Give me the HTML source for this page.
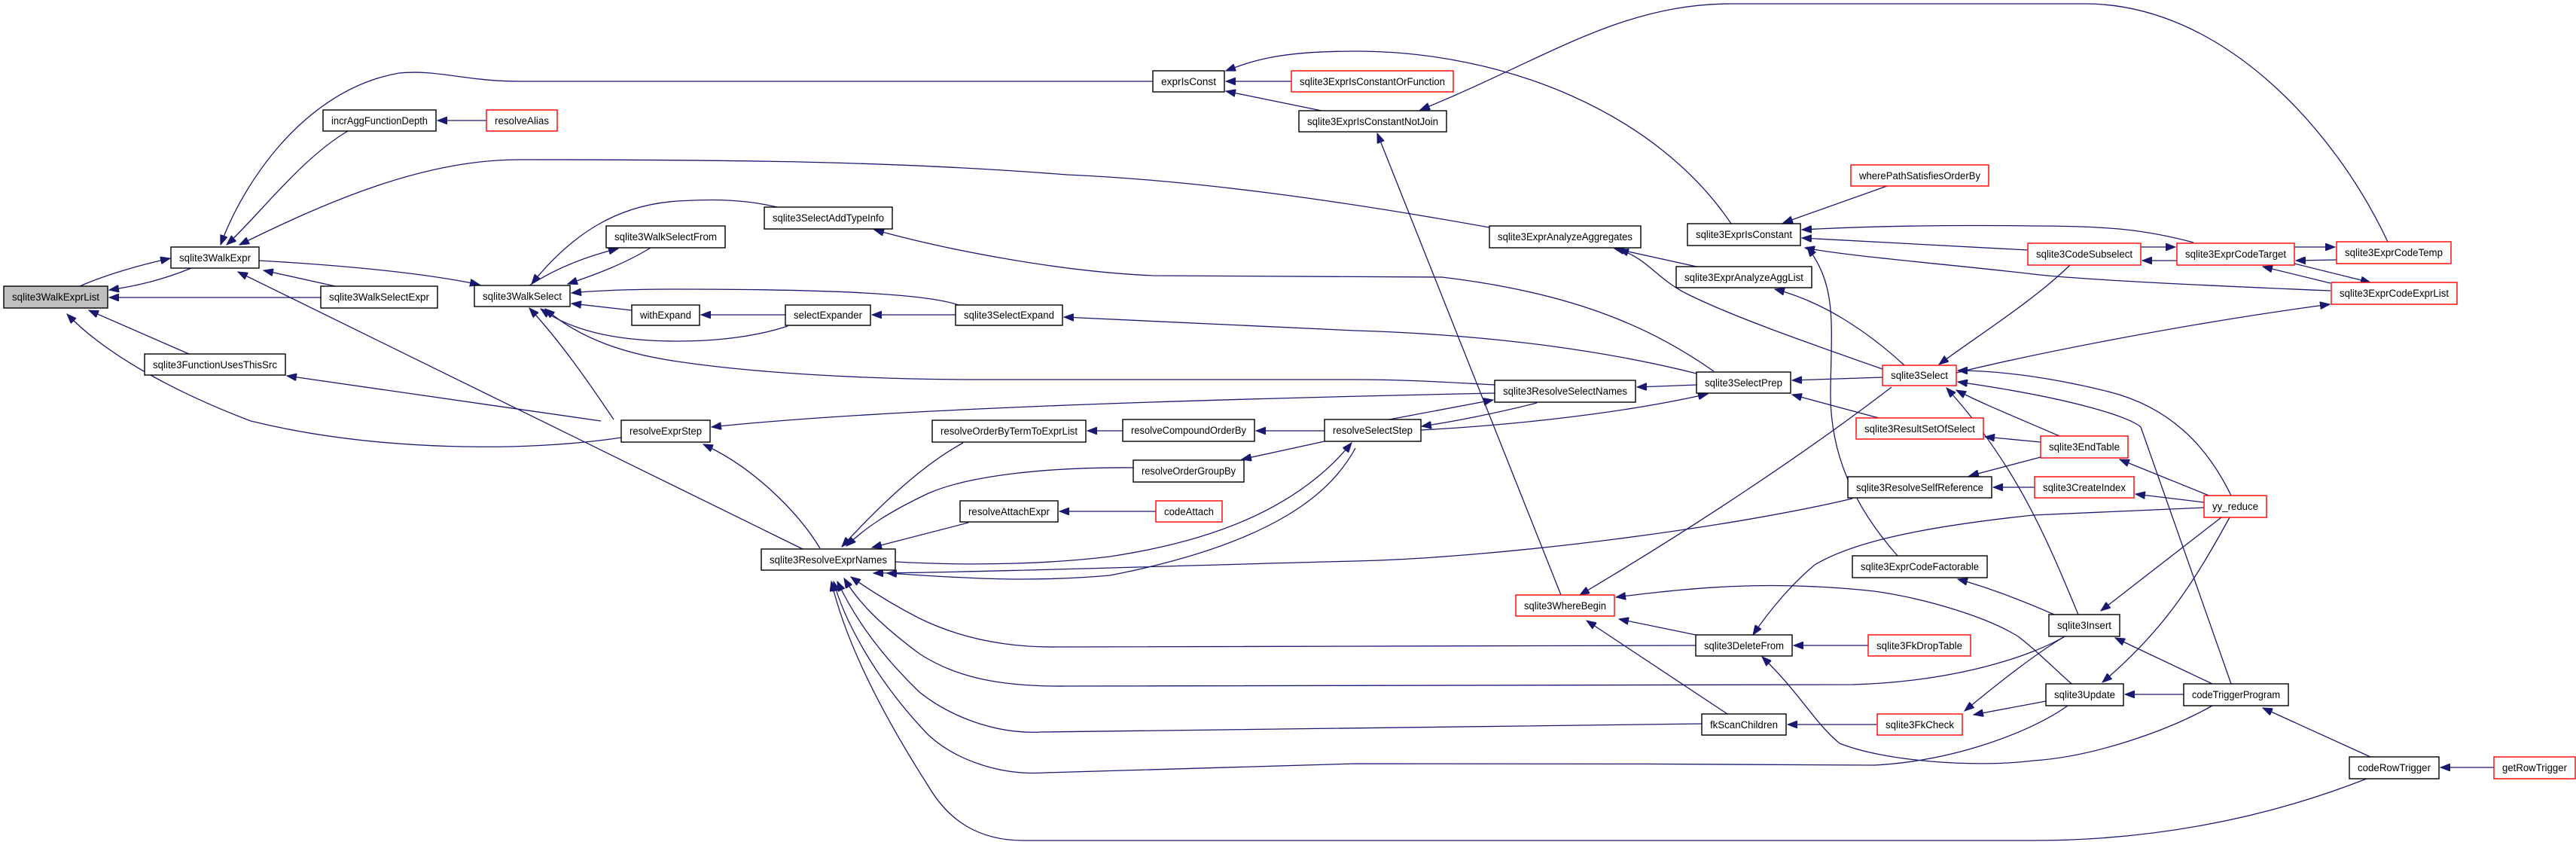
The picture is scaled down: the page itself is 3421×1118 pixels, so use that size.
<!DOCTYPE html>
<html><head><meta charset="utf-8"><style>
html,body{margin:0;padding:0;background:#fff;}
svg{display:block;}
.n{fill:#fff;stroke:#000;stroke-width:1.4;}
.r{fill:#fff;stroke:#ff0000;stroke-width:1.4;}
.g{fill:#bfbfbf;stroke:#000;stroke-width:1.4;}
text{font-family:"Liberation Sans",Arial,sans-serif;font-size:13.5px;fill:#000;text-anchor:middle;}
path{fill:none;stroke:#191970;stroke-width:1.3;marker-end:url(#a);}
</style></head><body>
<svg width="3421" height="1118" viewBox="0 0 3421 1118" xmlns="http://www.w3.org/2000/svg">
<defs><marker id="a" markerUnits="userSpaceOnUse" markerWidth="14" markerHeight="10" refX="13" refY="5" orient="auto"><polygon points="0,0 13,5 0,10" fill="#191970" stroke="#191970"/></marker></defs>
<g>
<path d="M 254 356 C 215 372 180 380 145 385"/>
<path d="M 106 380 C 140 365 185 352 226 343"/>
<path d="M 426 395 L 145 395"/>
<path d="M 251 470 L 118 412"/>
<path d="M 825 581 C 700 600 500 600 333 559 C 230 520 140 470 89 417"/>
<path d="M 462 174 C 400 210 340 290 301 325"/>
<path d="M 1531 108 L 689 108 C 620 108 580 92 530 97 C 400 120 320 250 293 325"/>
<path d="M 1978 302 C 1800 270 1600 240 1417 232 C 1200 215 1000 212 689 212 C 560 212 430 270 318 325"/>
<path d="M 445 380 L 350 359"/>
<path d="M 344 346 C 450 352 560 362 637 378"/>
<path d="M 1066 729 L 316 361"/>
<path d="M 703 379 C 740 355 780 340 821 330"/>
<path d="M 864 329 C 830 350 790 365 754 377"/>
<path d="M 1032 275 C 990 265 950 264 900 267 C 820 272 760 310 706 377"/>
<path d="M 1273 405 C 1230 390 1100 384 900 384 C 830 384 790 386 759 389"/>
<path d="M 839 412 L 759 403"/>
<path d="M 1046 433 C 1010 445 960 453 900 453 C 820 453 760 440 718 410"/>
<path d="M 1985 511 C 1900 506 1850 504 1800 504 L 1302 504 C 1150 504 1000 495 900 480 C 830 470 770 450 724 410"/>
<path d="M 815 557 C 790 520 750 460 703 409"/>
<path d="M 798 559 L 381 499"/>
<path d="M 1043 418 L 931 418"/>
<path d="M 1269 418 L 1158 418"/>
<path d="M 2253 496 C 2150 470 2000 445 1800 439 C 1600 430 1480 423 1413 421"/>
<path d="M 2276 493 C 2200 440 2100 390 1915 368 L 1531 366 C 1400 360 1250 330 1161 305"/>
<path d="M 1985 522 C 1700 528 1200 540 945 567"/>
<path d="M 1845 557 L 1983 531"/>
<path d="M 2041 535 C 1990 548 1930 560 1888 566"/>
<path d="M 1887 571 C 2000 565 2150 550 2268 523"/>
<path d="M 2253 511 L 2174 514"/>
<path d="M 2500 501 L 2380 505"/>
<path d="M 2495 555 L 2380 524"/>
<path d="M 2253 354 L 2144 330"/>
<path d="M 2500 490 C 2400 455 2300 420 2240 390 C 2200 370 2190 345 2150 331"/>
<path d="M 2529 485 C 2480 440 2420 400 2357 384"/>
<path d="M 2506 247 L 2368 296"/>
<path d="M 2299 297 C 2200 150 2000 68 1800 68 C 1700 68 1665 80 1628 94"/>
<path d="M 1715 108 L 1628 108"/>
<path d="M 1755 147 L 1628 121"/>
<path d="M 3171 321 C 3100 170 2950 5 2769 5 L 2299 5 C 2150 5 2050 80 1886 146"/>
<path d="M 2073 790 L 1829 177"/>
<path d="M 2913 322 C 2850 305 2800 300 2700 300 C 2550 298 2450 302 2393 305"/>
<path d="M 2693 332 L 2393 316"/>
<path d="M 3095 386 C 2900 378 2750 370 2700 364 C 2600 352 2450 340 2397 329"/>
<path d="M 2520 738 C 2460 670 2430 600 2431 520 C 2432 430 2440 380 2400 328"/>
<path d="M 2512 514 C 2400 600 2250 700 2098 790"/>
<path d="M 2749 352 C 2700 400 2620 450 2575 484"/>
<path d="M 2598 495 C 2700 470 2900 430 3094 404"/>
<path d="M 2963 658 C 2930 590 2880 540 2800 520 C 2720 500 2650 492 2600 492"/>
<path d="M 2963 908 L 2843 567 C 2830 555 2760 530 2600 507"/>
<path d="M 2735 579 C 2680 555 2630 535 2598 518"/>
<path d="M 2760 816 C 2720 720 2680 620 2585 515"/>
<path d="M 2710 587 L 2636 580"/>
<path d="M 2710 607 L 2615 632"/>
<path d="M 2702 647 L 2647 647"/>
<path d="M 2936 659 L 2815 610"/>
<path d="M 2927 667 L 2836 656"/>
<path d="M 2927 674 L 2700 684 C 2550 700 2460 720 2410 750 C 2380 775 2350 810 2328 843"/>
<path d="M 2728 816 C 2680 795 2640 780 2600 769"/>
<path d="M 2751 908 C 2720 880 2700 860 2680 845 C 2640 820 2560 795 2489 785 C 2350 770 2250 780 2146 793"/>
<path d="M 2252 843 L 2150 822"/>
<path d="M 2294 948 L 2107 824"/>
<path d="M 2481 857 L 2382 857"/>
<path d="M 2493 962 L 2374 962"/>
<path d="M 2742 845 C 2700 870 2650 910 2609 944"/>
<path d="M 2717 931 L 2621 949"/>
<path d="M 2938 937 C 2880 970 2780 1005 2700 1010 C 2620 1020 2500 1010 2443 987 C 2410 960 2390 920 2340 872"/>
<path d="M 2900 922 L 2822 922"/>
<path d="M 2938 908 L 2809 847"/>
<path d="M 2950 687 L 2790 811"/>
<path d="M 2961 687 C 2910 780 2870 840 2792 906"/>
<path d="M 3148 1005 L 3005 940"/>
<path d="M 3312 1019 L 3241 1019"/>
<path d="M 3143 1034 C 3000 1090 2850 1116 2700 1116 L 1359 1116 C 1300 1116 1260 1090 1233 1044 C 1160 930 1120 840 1104 772"/>
<path d="M 2746 937 C 2700 970 2600 1010 2489 1016 C 2300 1014 1900 1014 1800 1014 L 1388 1026 C 1330 1030 1270 1010 1233 976 C 1160 900 1120 820 1107 772"/>
<path d="M 2260 961 L 1382 972 C 1320 975 1260 950 1221 919 C 1160 860 1130 810 1112 772"/>
<path d="M 2742 845 C 2700 870 2600 905 2460 909 L 1417 911 C 1330 912 1270 900 1221 868 C 1170 830 1140 800 1121 768"/>
<path d="M 2252 857 L 1405 859 C 1330 860 1270 845 1221 821 C 1180 800 1150 780 1130 766"/>
<path d="M 2460 662 C 2300 700 2000 740 1800 745 C 1600 750 1300 760 1160 761"/>
<path d="M 1189 746 C 1300 752 1400 748 1474 739 C 1600 720 1720 680 1795 588"/>
<path d="M 1800 595 C 1770 650 1700 720 1474 764 C 1350 775 1250 765 1178 761"/>
<path d="M 1279 588 C 1220 620 1160 680 1118 726"/>
<path d="M 1505 621 C 1400 620 1290 630 1233 655 C 1180 680 1150 700 1124 725"/>
<path d="M 1286 694 L 1158 727"/>
<path d="M 1089 728 C 1060 680 1000 620 934 590"/>
<path d="M 1491 572 L 1444 572"/>
<path d="M 1759 572 L 1668 572"/>
<path d="M 1759 586 L 1649 610"/>
<path d="M 1535 679 L 1407 679"/>
<path d="M 2843 328 L 2889 328"/>
<path d="M 2891 346 L 2845 346"/>
<path d="M 3047 328 L 3101 328"/>
<path d="M 3103 345 L 3049 346"/>
<path d="M 3047 350 L 3148 375"/>
<path d="M 3095 376 L 3005 354"/>
<path d="M 646 160 L 581 160"/>
</g>
<g>
<rect class="g" x="5" y="380" width="138" height="29"/><text x="74" y="399" textLength="116" lengthAdjust="spacingAndGlyphs">sqlite3WalkExprList</text>
<rect class="n" x="227" y="328" width="117" height="28"/><text x="285.5" y="347" textLength="95" lengthAdjust="spacingAndGlyphs">sqlite3WalkExpr</text>
<rect class="n" x="429" y="146" width="150" height="28"/><text x="504" y="165" textLength="128" lengthAdjust="spacingAndGlyphs">incrAggFunctionDepth</text>
<rect class="r" x="646" y="146" width="94" height="28"/><text x="693" y="165" textLength="72" lengthAdjust="spacingAndGlyphs">resolveAlias</text>
<rect class="n" x="426" y="380" width="155" height="29"/><text x="503.5" y="399" textLength="133" lengthAdjust="spacingAndGlyphs">sqlite3WalkSelectExpr</text>
<rect class="n" x="630" y="379" width="127" height="28"/><text x="693.5" y="398" textLength="105" lengthAdjust="spacingAndGlyphs">sqlite3WalkSelect</text>
<rect class="n" x="805" y="300" width="158" height="29"/><text x="884" y="319" textLength="136" lengthAdjust="spacingAndGlyphs">sqlite3WalkSelectFrom</text>
<rect class="n" x="839" y="405" width="90" height="27"/><text x="884" y="423" textLength="68" lengthAdjust="spacingAndGlyphs">withExpand</text>
<rect class="n" x="192" y="470" width="187" height="28"/><text x="285.5" y="489" textLength="165" lengthAdjust="spacingAndGlyphs">sqlite3FunctionUsesThisSrc</text>
<rect class="n" x="825" y="558" width="118" height="29"/><text x="884" y="577" textLength="96" lengthAdjust="spacingAndGlyphs">resolveExprStep</text>
<rect class="n" x="1531" y="94" width="95" height="28"/><text x="1578.5" y="113" textLength="73" lengthAdjust="spacingAndGlyphs">exprIsConst</text>
<rect class="r" x="1715" y="94" width="215" height="28"/><text x="1822.5" y="113" textLength="193" lengthAdjust="spacingAndGlyphs">sqlite3ExprIsConstantOrFunction</text>
<rect class="n" x="1725" y="147" width="196" height="28"/><text x="1823" y="166" textLength="174" lengthAdjust="spacingAndGlyphs">sqlite3ExprIsConstantNotJoin</text>
<rect class="n" x="1015" y="275" width="170" height="29"/><text x="1100" y="294" textLength="148" lengthAdjust="spacingAndGlyphs">sqlite3SelectAddTypeInfo</text>
<rect class="n" x="1043" y="405" width="113" height="27"/><text x="1099.5" y="423" textLength="91" lengthAdjust="spacingAndGlyphs">selectExpander</text>
<rect class="n" x="1269" y="405" width="142" height="27"/><text x="1340" y="423" textLength="120" lengthAdjust="spacingAndGlyphs">sqlite3SelectExpand</text>
<rect class="n" x="1238" y="558" width="204" height="29"/><text x="1340" y="577" textLength="182" lengthAdjust="spacingAndGlyphs">resolveOrderByTermToExprList</text>
<rect class="n" x="1491" y="557" width="175" height="29"/><text x="1578.5" y="576" textLength="153" lengthAdjust="spacingAndGlyphs">resolveCompoundOrderBy</text>
<rect class="n" x="1505" y="611" width="147" height="29"/><text x="1578.5" y="630" textLength="125" lengthAdjust="spacingAndGlyphs">resolveOrderGroupBy</text>
<rect class="n" x="1275" y="665" width="130" height="28"/><text x="1340" y="684" textLength="108" lengthAdjust="spacingAndGlyphs">resolveAttachExpr</text>
<rect class="r" x="1535" y="665" width="88" height="28"/><text x="1579" y="684" textLength="66" lengthAdjust="spacingAndGlyphs">codeAttach</text>
<rect class="n" x="1011" y="729" width="178" height="28"/><text x="1100" y="748" textLength="156" lengthAdjust="spacingAndGlyphs">sqlite3ResolveExprNames</text>
<rect class="n" x="1759" y="557" width="128" height="29"/><text x="1823" y="576" textLength="106" lengthAdjust="spacingAndGlyphs">resolveSelectStep</text>
<rect class="n" x="1978" y="300" width="201" height="29"/><text x="2078.5" y="319" textLength="179" lengthAdjust="spacingAndGlyphs">sqlite3ExprAnalyzeAggregates</text>
<rect class="n" x="2241" y="297" width="150" height="29"/><text x="2316" y="316" textLength="128" lengthAdjust="spacingAndGlyphs">sqlite3ExprIsConstant</text>
<rect class="r" x="2458" y="219" width="183" height="28"/><text x="2549.5" y="238" textLength="161" lengthAdjust="spacingAndGlyphs">wherePathSatisfiesOrderBy</text>
<rect class="n" x="2226" y="354" width="180" height="28"/><text x="2316" y="373" textLength="158" lengthAdjust="spacingAndGlyphs">sqlite3ExprAnalyzeAggList</text>
<rect class="r" x="2500" y="485" width="98" height="27"/><text x="2549" y="503" textLength="76" lengthAdjust="spacingAndGlyphs">sqlite3Select</text>
<rect class="n" x="2253" y="494" width="125" height="28"/><text x="2315.5" y="513" textLength="103" lengthAdjust="spacingAndGlyphs">sqlite3SelectPrep</text>
<rect class="n" x="1985" y="505" width="187" height="29"/><text x="2078.5" y="524" textLength="165" lengthAdjust="spacingAndGlyphs">sqlite3ResolveSelectNames</text>
<rect class="r" x="2465" y="555" width="169" height="28"/><text x="2549.5" y="574" textLength="147" lengthAdjust="spacingAndGlyphs">sqlite3ResultSetOfSelect</text>
<rect class="n" x="2454" y="633" width="191" height="28"/><text x="2549.5" y="652" textLength="169" lengthAdjust="spacingAndGlyphs">sqlite3ResolveSelfReference</text>
<rect class="n" x="2460" y="738" width="179" height="29"/><text x="2549.5" y="757" textLength="157" lengthAdjust="spacingAndGlyphs">sqlite3ExprCodeFactorable</text>
<rect class="r" x="2013" y="790" width="131" height="28"/><text x="2078.5" y="809" textLength="109" lengthAdjust="spacingAndGlyphs">sqlite3WhereBegin</text>
<rect class="n" x="2252" y="843" width="128" height="28"/><text x="2316" y="862" textLength="106" lengthAdjust="spacingAndGlyphs">sqlite3DeleteFrom</text>
<rect class="r" x="2481" y="843" width="136" height="28"/><text x="2549" y="862" textLength="114" lengthAdjust="spacingAndGlyphs">sqlite3FkDropTable</text>
<rect class="n" x="2260" y="948" width="112" height="28"/><text x="2316" y="967" textLength="90" lengthAdjust="spacingAndGlyphs">fkScanChildren</text>
<rect class="r" x="2493" y="948" width="113" height="28"/><text x="2549.5" y="967" textLength="91" lengthAdjust="spacingAndGlyphs">sqlite3FkCheck</text>
<rect class="r" x="2693" y="323" width="150" height="29"/><text x="2768" y="342" textLength="128" lengthAdjust="spacingAndGlyphs">sqlite3CodeSubselect</text>
<rect class="r" x="2891" y="323" width="156" height="29"/><text x="2969" y="342" textLength="134" lengthAdjust="spacingAndGlyphs">sqlite3ExprCodeTarget</text>
<rect class="r" x="3103" y="321" width="152" height="29"/><text x="3179" y="340" textLength="130" lengthAdjust="spacingAndGlyphs">sqlite3ExprCodeTemp</text>
<rect class="r" x="3096" y="375" width="167" height="29"/><text x="3179.5" y="394" textLength="145" lengthAdjust="spacingAndGlyphs">sqlite3ExprCodeExprList</text>
<rect class="r" x="2710" y="579" width="116" height="29"/><text x="2768" y="598" textLength="94" lengthAdjust="spacingAndGlyphs">sqlite3EndTable</text>
<rect class="r" x="2702" y="633" width="132" height="28"/><text x="2768" y="652" textLength="110" lengthAdjust="spacingAndGlyphs">sqlite3CreateIndex</text>
<rect class="r" x="2927" y="658" width="83" height="29"/><text x="2968.5" y="677" textLength="61" lengthAdjust="spacingAndGlyphs">yy_reduce</text>
<rect class="n" x="2721" y="816" width="94" height="29"/><text x="2768" y="835" textLength="72" lengthAdjust="spacingAndGlyphs">sqlite3Insert</text>
<rect class="n" x="2717" y="908" width="103" height="29"/><text x="2768.5" y="927" textLength="81" lengthAdjust="spacingAndGlyphs">sqlite3Update</text>
<rect class="n" x="2900" y="908" width="139" height="29"/><text x="2969.5" y="927" textLength="117" lengthAdjust="spacingAndGlyphs">codeTriggerProgram</text>
<rect class="n" x="3120" y="1005" width="119" height="29"/><text x="3179.5" y="1024" textLength="97" lengthAdjust="spacingAndGlyphs">codeRowTrigger</text>
<rect class="r" x="3312" y="1005" width="108" height="29"/><text x="3366" y="1024" textLength="86" lengthAdjust="spacingAndGlyphs">getRowTrigger</text>
</g>
</svg>
</body></html>
